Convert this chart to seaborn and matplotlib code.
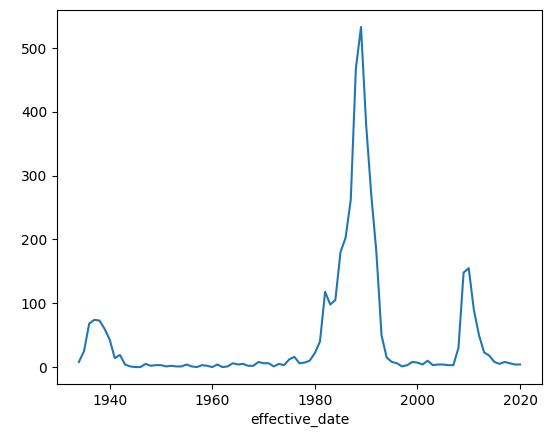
import matplotlib
matplotlib.use("Agg")
import matplotlib.pyplot as plt
import seaborn as sns
import pandas as pd

years = list(range(1934, 2021))
counts = [8, 25, 68, 74, 73, 60, 43, 14, 19, 4, 1, 0, 0, 5, 2, 3, 3, 1, 2, 1, 1, 4, 1, 0, 3, 2,
          0, 4, 0, 1, 6, 4, 5, 2, 2, 8, 6, 6, 1, 5, 3, 12, 16, 6, 7, 10,
          22, 40, 118, 98, 105, 180, 203, 262, 468, 533, 380, 270, 180, 50, 15, 8, 6, 1, 3, 8,
          7, 4, 10, 3, 4, 4, 3, 3, 30, 148, 155, 90, 50, 23, 18, 8, 5, 8, 6, 4, 4]

df = pd.DataFrame({"effective_date": years, "count": counts})
fig, ax = plt.subplots(figsize=(5.52, 4.33), dpi=100)
sns.lineplot(data=df, x="effective_date", y="count", ax=ax)
ax.set_ylabel("")
fig.subplots_adjust(left=0.103, right=0.982, bottom=0.113, top=0.977)
fig.savefig("out.png", dpi=100)
